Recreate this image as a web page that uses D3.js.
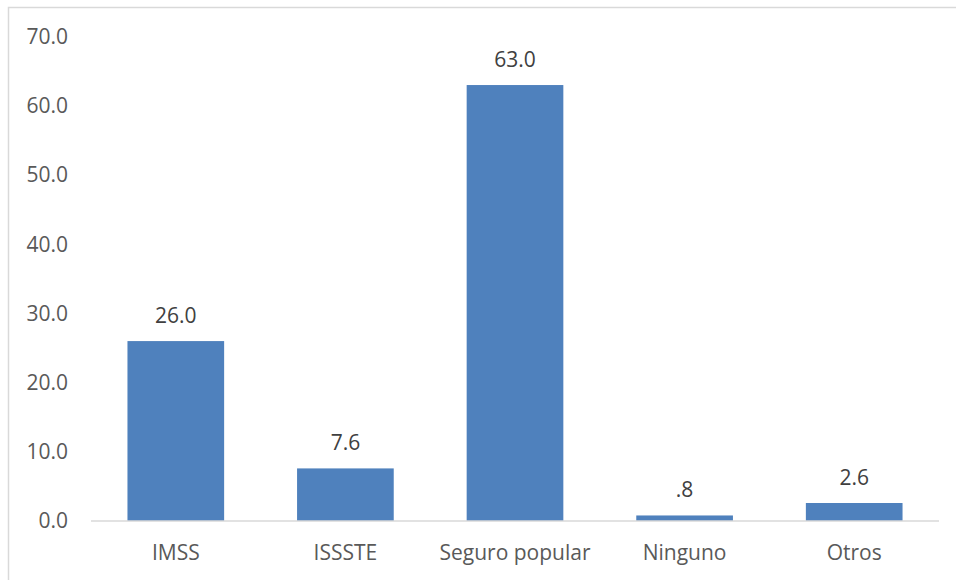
<!DOCTYPE html>
<html><head><meta charset="utf-8">
<script src="https://cdn.jsdelivr.net/npm/d3@7"></script>
<style>html,body{margin:0;padding:0;background:#fff;overflow:hidden}</style>
</head><body><svg id="c" width="956" height="580"></svg>
<script>
const categories = ["IMSS", "ISSSTE", "Seguro popular", "Ninguno", "Otros"];
const values = [26.0, 7.6, 63.0, 0.8, 2.6];
const yTicks = [0, 10, 20, 30, 40, 50, 60, 70];

const svg = d3.select("#c");
const font = "'Open Sans', 'Segoe UI', sans-serif";
const fs = 21;
const m = {left: 91, right: 17, top: 36.6, bottom: 59};
const W = 956, H = 580;

svg.append("rect").attr("x", 8.5).attr("y", 7.5).attr("width", 970).attr("height", 600)
  .attr("fill", "#fff").attr("stroke", "#d9d9d9").attr("stroke-width", 1.5);

const x = d3.scaleBand().domain(categories).range([m.left, W - m.right]).paddingInner(0.43).paddingOuter(0.215);
const y = d3.scaleLinear().domain([0, 70]).range([H - m.bottom, m.top]);

const fmt = v => d3.format(".1f")(v).replace(/^0\./, ".");

// y tick labels
svg.append("g").selectAll("text").data(yTicks).join("text")
  .attr("x", 68).attr("y", d => y(d)).attr("dy", "0.35em")
  .attr("text-anchor", "end").attr("font-family", font).attr("font-size", fs)
  .attr("fill", "#595959").text(d => d3.format(".1f")(d));

// bars
svg.append("g").selectAll("rect").data(values).join("rect")
  .attr("x", (d, i) => x(categories[i])).attr("width", x.bandwidth())
  .attr("y", d => y(d)).attr("height", d => y(0) - y(d))
  .attr("fill", "#4F81BD");

// baseline
svg.append("line").attr("x1", m.left).attr("x2", W - m.right)
  .attr("y1", y(0)).attr("y2", y(0)).attr("stroke", "#d9d9d9").attr("stroke-width", 1.5);

// value labels
svg.append("g").selectAll("text").data(values).join("text")
  .attr("x", (d, i) => x(categories[i]) + x.bandwidth() / 2)
  .attr("y", d => y(d) - 18)
  .attr("text-anchor", "middle").attr("font-family", font).attr("font-size", fs)
  .attr("fill", "#404040").text(d => fmt(d));

// category labels
svg.append("g").selectAll("text").data(categories).join("text")
  .attr("x", d => x(d) + x.bandwidth() / 2).attr("y", y(0) + 32)
  .attr("dy", "0.35em")
  .attr("text-anchor", "middle").attr("font-family", font).attr("font-size", fs)
  .attr("fill", "#595959").text(d => d);
</script></body></html>
